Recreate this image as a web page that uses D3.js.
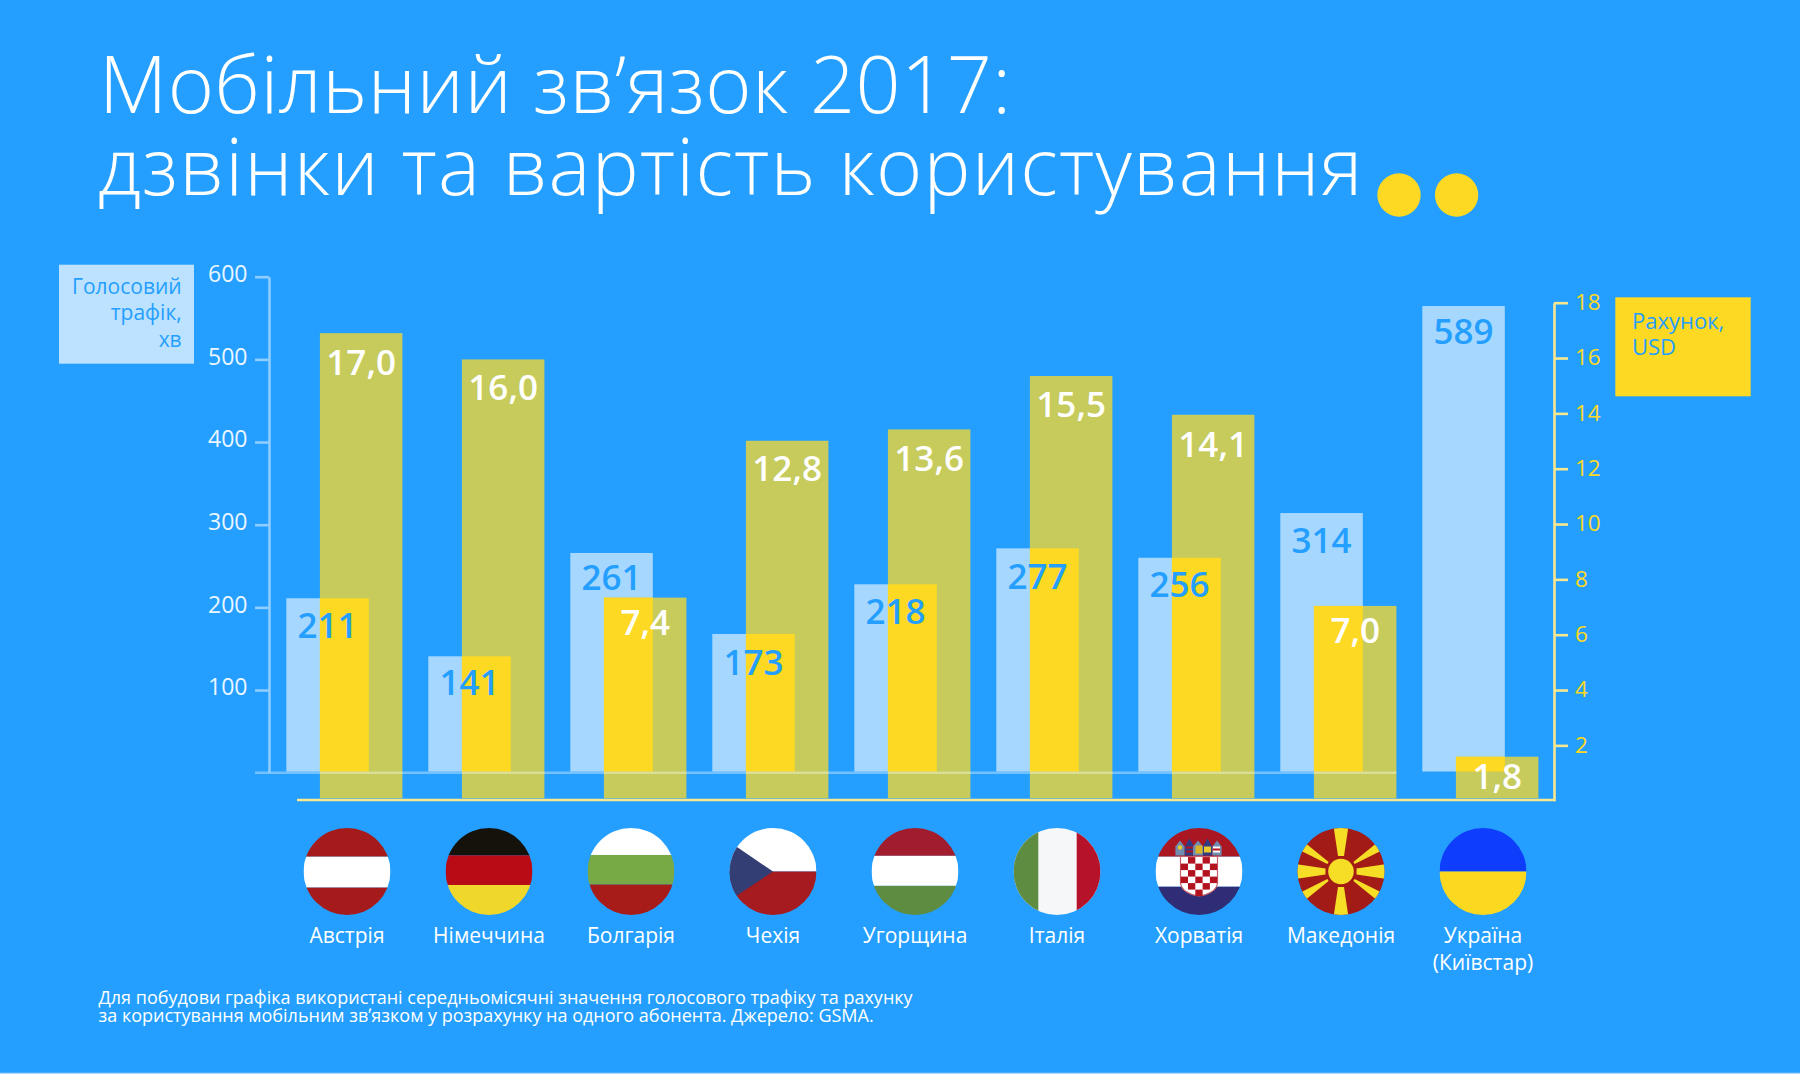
<!DOCTYPE html>
<html lang="uk">
<head>
<meta charset="utf-8">
<script src="https://cdn.jsdelivr.net/npm/d3@7/dist/d3.min.js"></script>
<style>
html,body{margin:0;padding:0;background:#249fff;}
svg{display:block;}
text{font-family:"Open Sans",sans-serif;}
</style>
</head>
<body>
<svg id="chart" width="1800" height="1074"></svg>
<script>
const countries = ["Австрія","Німеччина","Болгарія","Чехія","Угорщина","Італія","Хорватія","Македонія","Україна"];
// Printed labels of the chart
const trafficLabels = ["211","141","261","173","218","277","256","314","589"];
const billLabels = ["17,0","16,0","7,4","12,8","13,6","15,5","14,1","7,0","1,8"];
// Bar heights as read against the axes of the picture (the source's bars do not sit exactly on their printed numbers)
const trafficBars = [211,140.8,265.8,167.8,227.9,271.4,260,314.1,564.5];
const billBars = [16.9,15.95,7.34,13.01,13.42,15.35,13.95,7.04,1.59];
const trafficTicks = [100,200,300,400,500,600];
const billTicks = [2,4,6,8,10,12,14,16,18];
const titleLines = ["Мобільний зв\u02BCязок 2017:","дзвінки та вартість користування"];
const noteLines = ["Для побудови графіка використані середньомісячні значення голосового трафіку та рахунку","за користування мобільним зв\u02BCязком у розрахунку на одного абонента. Джерело: GSMA."];
const trafficLegend = ["Голосовий","трафік,","хв"];
const billLegend = ["Рахунок,","USD"];
const extraName = "(Київстар)";

const C = {bg:"#249fff",blue:"#a6d8ff",olive:"#c6cb5c",yellow:"#fdd923",legendBlue:"#bde2ff",tick:"#eaf6ff",axisL:"#8fcdff",axisR:"#f7e88f"};
// Layout: baseline drop of each value label below its bar top
const trafficLabelDy = [40,38.7,37,41,39.7,40.7,39.7,39.7,38];
const billLabelDy = [42,40.7,37.3,40,42,40.7,42,36.7,32];

const svg = d3.select("#chart");
svg.append("rect").attr("width",1800).attr("height",1074).attr("fill",C.bg);
svg.append("rect").attr("y",1072.7).attr("width",1800).attr("height",1.3).attr("fill",C.blue);

const x = d3.scaleBand().domain(countries).range([276,276+142*9]);
const yT = d3.scaleLinear().domain([0,600]).range([772.7,276.7]);
const yB = d3.scaleLinear().domain([0,18]).range([800.7,302.7]);
const barW = 82.5, offT = 10.3, offB = 43.9;
const rows = countries.map((c,i)=>({c,i,t:trafficBars[i],b:billBars[i],tl:trafficLabels[i],bl:billLabels[i]}));

// title
svg.append("g").selectAll("text").data(titleLines).join("text")
  .attr("x",(d,i)=>i?98:99).attr("y",(d,i)=>i?195:112.7)
  .attr("letter-spacing",(d,i)=>i?1.2:0.5)
  .attr("font-size",79).attr("font-weight",300).attr("fill","#fff").text(d=>d);
svg.append("g").selectAll("circle").data([1399,1456.6]).join("circle")
  .attr("cx",d=>d).attr("cy",195).attr("r",21.7).attr("fill",C.yellow);

// bars
const bars = svg.append("g");
bars.selectAll(".t").data(rows).join("rect").attr("class","t")
  .attr("x",d=>x(d.c)+offT).attr("width",barW)
  .attr("y",d=>yT(d.t)).attr("height",d=>yT(0)-yT(d.t)-1.2).attr("fill",C.blue);
bars.selectAll(".b").data(rows).join("rect").attr("class","b")
  .attr("x",d=>x(d.c)+offB).attr("width",barW)
  .attr("y",d=>yB(d.b)).attr("height",d=>yB(0)-yB(d.b)-2.4).attr("fill",C.olive);
// overlap of the two translucent bars
bars.selectAll(".o").data(rows).join("rect").attr("class","o")
  .attr("x",d=>x(d.c)+offB).attr("width",barW-(offB-offT))
  .attr("y",d=>Math.max(yB(d.b),yT(d.t))).attr("height",d=>yT(0)-1.2-Math.max(yB(d.b),yT(d.t))).attr("fill",C.yellow);

// baselines
svg.append("line").attr("x1",255).attr("x2",x(countries[7])+offB+barW).attr("y1",yT(0)).attr("y2",yT(0))
  .attr("stroke","#fff").attr("stroke-opacity",0.36).attr("stroke-width",2.6);
svg.append("line").attr("x1",297).attr("x2",1555.2).attr("y1",800).attr("y2",800)
  .attr("stroke",C.axisR).attr("stroke-width",2.6);

// axes
const axL = svg.append("g").attr("transform","translate(269,0)")
  .call(d3.axisLeft(yT).tickValues(trafficTicks).tickSize(14).tickSizeOuter(0).tickPadding(7.5));
axL.select(".domain").attr("stroke",C.axisL).attr("stroke-width",2.6);
axL.selectAll(".tick line").attr("stroke",C.axisL).attr("stroke-width",2.6);
axL.selectAll(".tick text").attr("fill",C.tick).attr("font-size",23).attr("font-weight",400).attr("font-family",'"Open Sans",sans-serif').attr("dy","0.21em");
const axR = svg.append("g").attr("transform","translate(1554,0)")
  .call(d3.axisRight(yB).tickValues(billTicks).tickSize(14).tickSizeOuter(0).tickPadding(7));
axR.select(".domain").attr("stroke",C.axisR).attr("stroke-width",2.6);
axR.selectAll(".tick line").attr("stroke",C.axisR).attr("stroke-width",2.6);
axR.selectAll(".tick text").attr("fill",C.yellow).attr("font-size",22.5).attr("font-weight",400).attr("font-family",'"Open Sans",sans-serif').attr("dy","0.3em");

// value labels
const valueSize = 35;
svg.append("g").selectAll("text").data(rows).join("text")
  .attr("x",d=>x(d.c)+offT+barW/2).attr("y",d=>yT(d.t)+trafficLabelDy[d.i])
  .attr("text-anchor","middle").attr("font-size",valueSize).attr("font-weight",600).attr("fill",C.bg).text(d=>d.tl);
svg.append("g").selectAll("text").data(rows).join("text")
  .attr("x",d=>x(d.c)+offB+barW/2).attr("y",d=>yB(d.b)+billLabelDy[d.i])
  .attr("text-anchor","middle").attr("font-size",valueSize).attr("font-weight",600).attr("fill","#fff").text(d=>d.bl);

// legends
svg.append("rect").attr("x",59).attr("y",264.7).attr("width",135).attr("height",99).attr("fill",C.legendBlue);
svg.append("g").selectAll("text").data(trafficLegend).join("text")
  .attr("x",181.7).attr("y",(d,i)=>294+i*26.3).attr("text-anchor","end")
  .attr("font-size",21).attr("font-weight",400).attr("fill",C.bg).text(d=>d);
svg.append("rect").attr("x",1615.3).attr("y",297.3).attr("width",135.4).attr("height",99).attr("fill",C.yellow);
svg.append("g").selectAll("text").data(billLegend).join("text")
  .attr("x",1632).attr("y",(d,i)=>329+i*26).attr("font-size",22).attr("font-weight",400).attr("fill",C.bg).text(d=>d);

// flags
const flagY = 871.5, flagR = 43.5;
const defs = svg.append("defs");
const flagStripes = [
  [["#a51b1b",-1],["#fff",-0.34],["#a51b1b",0.37]],
  [["#15120c",-1],["#b90b16",-0.37],["#efd72b",0.31]],
  [["#fff",-1],["#77a944",-0.38],["#a71c19",0.3]],
  null,
  [["#a11c2d",-1],["#fff",-0.36],["#5e8c41",0.33]],
  null,
  [["#aa1622",-1],["#fff",-0.34],["#2f2d75",0.35]],
  null,
  [["#0f3dfc",-1],["#fcd820",0]]
];
const flags = svg.append("g").selectAll("g").data(rows).join("g")
  .attr("transform",d=>`translate(${x(d.c)+71},${flagY})`);
flags.each(function(d){
  const id = "fc"+d.i;
  defs.append("clipPath").attr("id",id).append("circle").attr("r",flagR);
  const g = d3.select(this).append("g").attr("clip-path",`url(#${id})`);
  const s = flagStripes[d.i];
  if(s){
    s.forEach((st,k)=>{
      const top = st[1]*flagR, bot = (k<s.length-1?s[k+1][1]:1)*flagR;
      g.append("rect").attr("x",-flagR).attr("width",2*flagR).attr("y",top).attr("height",bot-top).attr("fill",st[0]);
    });
  }
  if(d.i===3){ // Czech
    g.append("rect").attr("x",-flagR).attr("y",-flagR).attr("width",2*flagR).attr("height",flagR).attr("fill","#fff");
    g.append("rect").attr("x",-flagR).attr("y",0).attr("width",2*flagR).attr("height",flagR).attr("fill","#a51b1f");
    g.append("path").attr("d","M0,0L-36,-24.5L-50,-24.5L-50,24.5L-36,24L0,0Z").attr("fill","#333e74");
  }
  if(d.i===5){ // Italy
    g.append("rect").attr("x",-flagR).attr("y",-flagR).attr("width",2*flagR).attr("height",2*flagR).attr("fill","#f6f7f9");
    g.append("rect").attr("x",-flagR).attr("y",-flagR).attr("width",flagR-18.7).attr("height",2*flagR).attr("fill","#5e8c41");
    g.append("rect").attr("x",19.7).attr("y",-flagR).attr("width",flagR-19.7).attr("height",2*flagR).attr("fill","#b6122a");
  }
  if(d.i===6){ // Croatia
    const sx=-18.5, sy=-15, cw=7.3, ch=7.3;
    g.append("path").attr("d",`M${sx},${sy}H${-sx}V11C${-sx},19 8,24 0,24.5C-8,24 ${sx},19 ${sx},11Z`).attr("fill","#fff").attr("stroke","#c9606a").attr("stroke-width",1.2);
    d3.range(5).forEach(cx=>d3.range(6).forEach(cy=>{
      if((cx+cy)%2===1 || (cy===5 && cx===2)){
        const rx=sx+cx*cw+0.2, ry=sy+0.6+cy*ch*0.89;
        if(cy===5 && (cx<1||cx>3)) return;
        g.append("rect").attr("x",rx).attr("y",ry).attr("width",cw).attr("height",ch*0.89).attr("fill","#b3121f");
      }
    }));
    const crown=[[-19,"#6f8db0"],[-9.5,"#2f3c84"],[-1,"#6f8db0"],[8.5,"#2f3c84"],[18,"#6f8db0"]];
    crown.forEach((k,n)=>{
      const w=n===2?5:4.6, t=n%2?-33:-31;
      g.append("path").attr("d",`M${k[0]-w},-25L${k[0]},${t}L${k[0]+w},-25L${k[0]+w},-16H${k[0]-w}Z`).attr("fill",k[1]);
    });
    g.append("rect").attr("x",-3.5).attr("y",-26).attr("width",7).attr("height",8).attr("fill","#d8b428");
    g.append("rect").attr("x",5).attr("y",-25).attr("width",7).attr("height",6).attr("fill","#e9c92e");
    g.append("rect").attr("x",14).attr("y",-25).attr("width",7).attr("height",6).attr("fill","#fff");
    g.append("rect").attr("x",14).attr("y",-23).attr("width",7).attr("height",2).attr("fill","#b3121f");
    g.append("rect").attr("x",-13).attr("y",-25).attr("width",7).attr("height",2).attr("fill","#b3121f");
    g.append("rect").attr("x",-13).attr("y",-21).attr("width",7).attr("height",2).attr("fill","#b3121f");
    g.append("circle").attr("cx",-19).attr("cy",-24).attr("r",2.2).attr("fill","#e9c92e");
  }
  if(d.i===7){ // Macedonia
    g.append("circle").attr("r",flagR+1).attr("fill","#a21b17");
    [0,33,90,147,180,213,270,327].forEach(a=>{
      const t=a*Math.PI/180, ux=Math.cos(t), uy=Math.sin(t), px=-uy, py=ux;
      const axial=a%90===0, r0=axial?15.5:15.5, w0=axial?3:1.2, w1=axial?7.5:4.5;
      const r1=flagR+2;
      g.append("path").attr("d",
        `M${r0*ux+w0*px},${r0*uy+w0*py}L${r1*ux+w1*px},${r1*uy+w1*py}L${r1*ux-w1*px},${r1*uy-w1*py}L${r0*ux-w0*px},${r0*uy-w0*py}Z`)
        .attr("fill","#f5de25");
    });
    g.append("circle").attr("r",12.8).attr("fill","#f5de25");
  }
});

// country names
svg.append("g").selectAll("text").data(rows).join("text")
  .attr("x",d=>x(d.c)+71).attr("y",943.3).attr("text-anchor","middle")
  .attr("font-size",21).attr("font-weight",400).attr("fill","#fff").text(d=>d.c);
svg.append("text").attr("x",x(countries[8])+71).attr("y",970).attr("text-anchor","middle")
  .attr("font-size",21).attr("font-weight",400).attr("fill","#fff").text(extraName);

// note
svg.append("g").selectAll("text").data(noteLines).join("text")
  .attr("x",98.5).attr("y",(d,i)=>1004.3+i*18).attr("font-size",18).attr("font-weight",400).attr("fill","#fff").text(d=>d);
</script>
</body>
</html>
